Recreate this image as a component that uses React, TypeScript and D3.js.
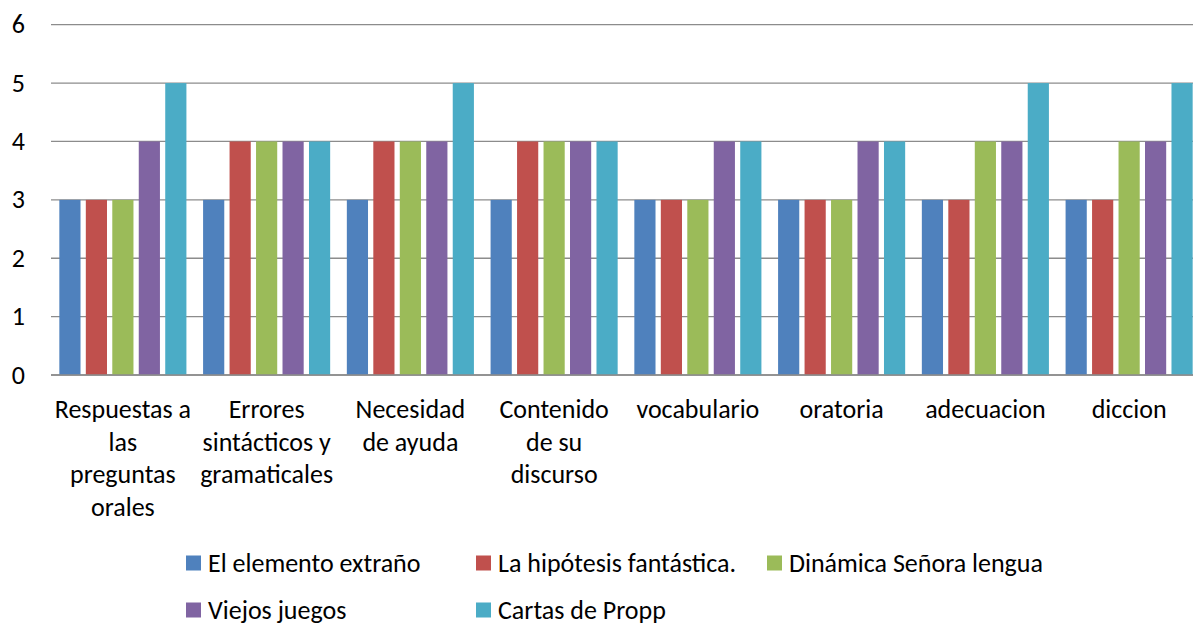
import React from "react";
import * as d3 from "d3";

const categories: string[][] = [
  ["Respuestas a", "las", "preguntas", "orales"],
  ["Errores", "sintácticos y", "gramaticales"],
  ["Necesidad", "de ayuda"],
  ["Contenido", "de su", "discurso"],
  ["vocabulario"],
  ["oratoria"],
  ["adecuacion"],
  ["diccion"],
];
const seriesNames = [
  "El elemento extraño",
  "La hipótesis fantástica.",
  "Dinámica Señora lengua",
  "Viejos juegos",
  "Cartas de Propp",
];
const elementoExtrano = [3, 3, 3, 3, 3, 3, 3, 3];
const hipotesisFantastica = [3, 4, 4, 4, 3, 3, 3, 3];
const dinamicaSenora = [3, 4, 4, 4, 3, 3, 4, 4];
const viejosJuegos = [4, 4, 4, 4, 4, 4, 4, 4];
const cartasPropp = [5, 4, 5, 4, 4, 4, 5, 5];
const yTicks = [0, 1, 2, 3, 4, 5, 6];
const colors = ["#4F81BD", "#C0504D", "#9BBB59", "#8064A2", "#4BACC6"];

const seriesValues = [elementoExtrano, hipotesisFantastica, dinamicaSenora, viejosJuegos, cartasPropp];

const W = 1193;
const H = 625;
const FONT = "Carlito, Calibri, Lato, sans-serif";
const FS = 26;

export default function App() {
  const catIdx = categories.map((_, i) => String(i));
  const x0 = d3.scaleBand<string>().domain(catIdx).range([51, 1201]).paddingInner(0.116).paddingOuter(0.058);
  const x1 = d3.scaleBand<string>().domain(seriesNames).range([0, x0.bandwidth()]).paddingInner(0.2).paddingOuter(0);
  const y = d3.scaleLinear().domain([0, 6]).range([375, 24.7]);

  const legendPos = [
    { x: 186, y: 563 },
    { x: 476, y: 563 },
    { x: 767, y: 563 },
    { x: 186, y: 610 },
    { x: 476, y: 610 },
  ];

  return (
    <svg width={W} height={H} style={{ position: "absolute", left: 0, top: 0 }} fontFamily={FONT}>
      <rect x={0} y={0} width={W} height={H} fill="#fff" />
      {yTicks.map((t) => (
        <g key={t}>
          <line x1={51} x2={1201} y1={y(t)} y2={y(t)} stroke="#8c8c8c" strokeWidth={1.3} />
          <text x={25} y={y(t)} dy="0.33em" textAnchor="end" fontSize={FS} fill="#000">
            {t}
          </text>
        </g>
      ))}
      {categories.map((c, ci) => (
        <g key={ci} transform={`translate(${x0(String(ci))},0)`}>
          {seriesNames.map((s, si) => {
            const v = seriesValues[si][ci];
            return (
              <rect
                key={s}
                x={x1(s)}
                y={y(v)}
                width={x1.bandwidth()}
                height={y(0) - y(v)}
                fill={colors[si]}
              />
            );
          })}
        </g>
      ))}
      <line x1={51} x2={1201} y1={y(0)} y2={y(0)} stroke="#8c8c8c" strokeWidth={1.3} />
      {categories.map((lines, ci) => (
        <text
          key={ci}
          x={(x0(String(ci)) as number) + x0.bandwidth() / 2}
          y={418}
          textAnchor="middle"
          fontSize={FS}
          fill="#000"
        >
          {lines.map((l, li) => (
            <tspan key={li} x={(x0(String(ci)) as number) + x0.bandwidth() / 2} dy={li === 0 ? 0 : 32.5}>
              {l}
            </tspan>
          ))}
        </text>
      ))}
      {seriesNames.map((s, si) => (
        <g key={s}>
          <rect x={legendPos[si].x} y={legendPos[si].y - 7.5} width={15} height={15} fill={colors[si]} />
          <text x={legendPos[si].x + 22} y={legendPos[si].y} dy="0.33em" fontSize={FS} fill="#000">
            {s}
          </text>
        </g>
      ))}
    </svg>
  );
}
